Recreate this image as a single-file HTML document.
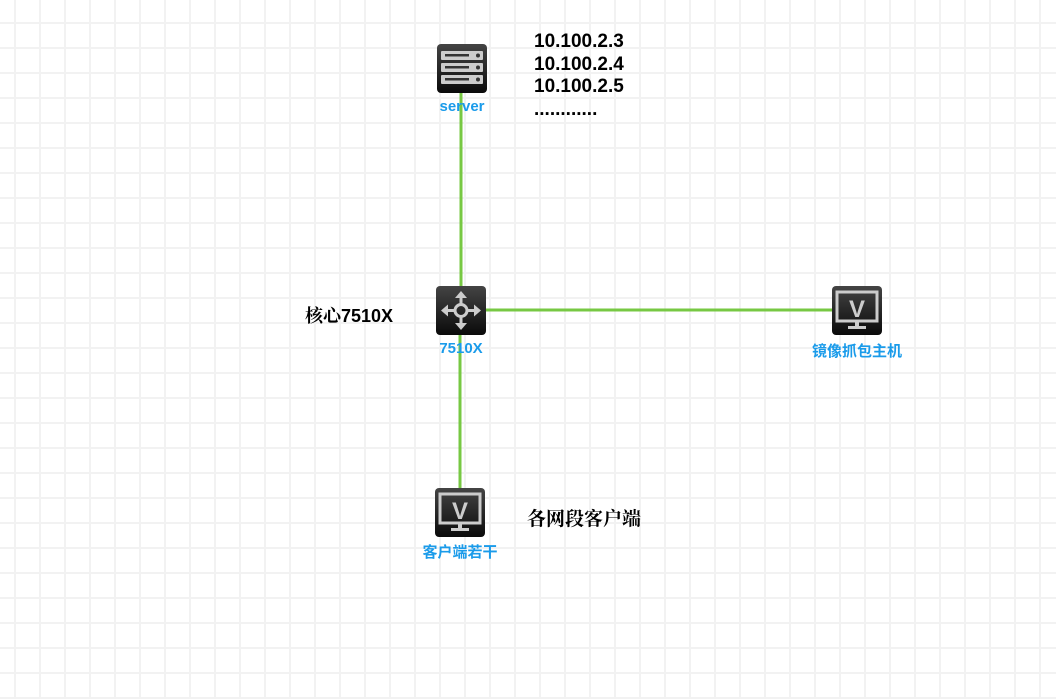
<!DOCTYPE html>
<html><head><meta charset="utf-8"><style>
body{margin:0;width:1056px;height:699px;overflow:hidden;background:#fff;
background-image:linear-gradient(90deg,#f2f2f2 2px,transparent 2px),linear-gradient(#f2f2f2 2px,transparent 2px);
background-size:25px 25px;background-position:14px 22px;position:relative;font-family:"Liberation Sans","Noto Sans CJK SC",sans-serif}
.t{position:absolute;white-space:nowrap}
.b{color:#000;font-weight:bold;font-size:18px}
.l{color:#1a9bea;font-weight:bold;font-size:15px;transform:translateX(-50%)}
.s{font-family:"Liberation Serif","Noto Serif CJK SC",serif}
</style></head><body>
<svg width="1056" height="699" style="position:absolute;left:0;top:0">
<defs>
<linearGradient id="g" x1="0" y1="0" x2="0" y2="1"><stop offset="0" stop-color="#444"/><stop offset="1" stop-color="#0a0a0a"/></linearGradient>
<g id="mon"><rect width="50" height="49" rx="4" fill="url(#g)"/>
<rect x="5" y="6" width="40" height="29" fill="none" stroke="#ccc" stroke-width="3"/>
<text x="25" y="31" text-anchor="middle" font-family="Liberation Sans" font-weight="bold" font-size="24" fill="#ccc">V</text>
<rect x="23" y="35" width="4" height="5" fill="#ccc"/><rect x="16" y="40" width="18" height="3" fill="#ccc"/></g>
</defs>
<g stroke="#77c843" stroke-width="3">
<line x1="461" y1="93" x2="461" y2="287"/><line x1="460" y1="335" x2="460" y2="489"/><line x1="486" y1="310" x2="833" y2="310"/></g>
<g transform="translate(437,44)"><rect width="50" height="49" rx="4" fill="url(#g)"/>
<g fill="#ccc"><rect x="4" y="7" width="42" height="9" rx="1"/><rect x="4" y="19" width="42" height="9" rx="1"/><rect x="4" y="31" width="42" height="9" rx="1"/></g>
<g fill="#333"><rect x="8" y="10" width="24" height="2.5"/><rect x="8" y="22" width="24" height="2.5"/><rect x="8" y="34" width="24" height="2.5"/>
<circle cx="41" cy="11.5" r="2"/><circle cx="41" cy="23.5" r="2"/><circle cx="41" cy="35.5" r="2"/></g></g>
<g transform="translate(436,286)"><rect width="50" height="49" rx="4" fill="url(#g)"/>
<g stroke="#ccc" stroke-width="3" fill="none"><circle cx="25" cy="24.5" r="6"/>
<line x1="25" y1="8" x2="25" y2="18"/><line x1="25" y1="31" x2="25" y2="41"/><line x1="8" y1="24.5" x2="18" y2="24.5"/><line x1="32" y1="24.5" x2="42" y2="24.5"/></g>
<g fill="#ccc"><polygon points="25,5 19,12 31,12"/><polygon points="25,44 19,37 31,37"/><polygon points="5,24.5 12,18.5 12,30.5"/><polygon points="45,24.5 38,18.5 38,30.5"/></g></g>
<use href="#mon" x="435" y="488"/><use href="#mon" x="832" y="286"/>
</svg>
<div class="t b" style="left:534px;top:31px;line-height:22.5px;font-size:19px">10.100.2.3<br>10.100.2.4<br>10.100.2.5<br>............</div>
<div class="t l" style="left:462px;top:98px">server</div>
<div class="t b" style="left:305px;top:302px"><span class="s">核心</span>7510X</div>
<div class="t l" style="left:461px;top:340px">7510X</div>
<div class="t l" style="left:857px;top:340px">镜像抓包主机</div>
<div class="t l" style="left:460px;top:541px">客户端若干</div>
<div class="t b s" style="left:527px;top:504px;font-size:19px">各网段客户端</div>
</body></html>
